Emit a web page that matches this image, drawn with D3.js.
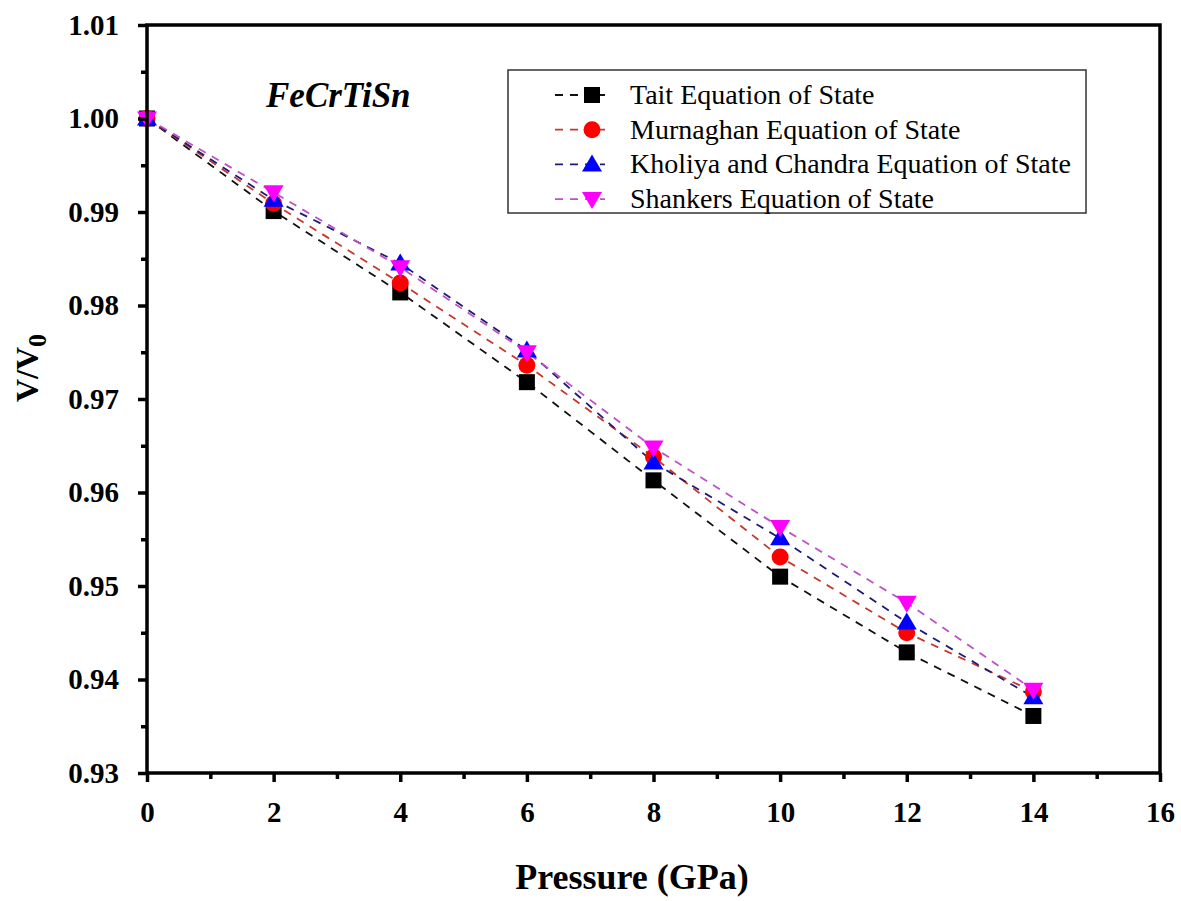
<!DOCTYPE html>
<html>
<head>
<meta charset="utf-8">
<script src="https://cdn.jsdelivr.net/npm/d3@7"></script>
<style>
  body { margin: 0; background: #fff; }
  text { font-family: "Liberation Serif", "Times New Roman", serif; }
  .tick-label { font-size: 29px; font-weight: bold; }
  .axis-title { font-size: 36px; font-weight: bold; }
  .legend { font-size: 28px; }
</style>
</head>
<body>
<svg id="fig" width="1181" height="901"></svg>
<script>
// pressure (GPa)
const pressure = [0, 2, 4, 6, 8, 10, 12, 14]

// V/V0 for each equation of state
const tait       = [1.0000, 0.9901, 0.9814, 0.9718, 0.9613, 0.9510, 0.9429, 0.9361]
const murnaghan  = [1.0000, 0.9909, 0.9824, 0.9736, 0.9638, 0.9531, 0.9450, 0.9387]
const kholiya    = [1.0000, 0.9913, 0.9845, 0.9752, 0.9632, 0.9551, 0.9461, 0.9381]
const shankers   = [1.0000, 0.9921, 0.9841, 0.9750, 0.9648, 0.9563, 0.9482, 0.9389]

const seriesNames = ["Tait Equation of State",
                     "Murnaghan Equation of State",
                     "Kholiya and Chandra Equation of State",
                     "Shankers Equation of State"]

const xTicks = [0, 2, 4, 6, 8, 10, 12, 14, 16]
const yTicks = [0.93, 0.94, 0.95, 0.96, 0.97, 0.98, 0.99, 1.00, 1.01]

const series = [
    {name: seriesNames[0], values: tait,      line: "#111111", fill: "#000000", shape: "square"},
    {name: seriesNames[1], values: murnaghan, line: "#c8382a", fill: "#ff0000", shape: "circle"},
    {name: seriesNames[2], values: kholiya,   line: "#1c1c78", fill: "#0000ff", shape: "up"},
    {name: seriesNames[3], values: shankers,  line: "#c050c8", fill: "#ff00ff", shape: "down"}
]

const pLeft = 147, pRight = 1160, pTop = 25, pBottom = 773
const Fig = d3.select("#fig")

const xScale = d3.scaleLinear().domain([0, 16]).range([pLeft, pRight])
const yScale = d3.scaleLinear().domain([0.93, 1.01]).range([pBottom, pTop])

// lines
const line = d3.line().x((d, i) => xScale(pressure[i])).y(d => yScale(d))
Fig.selectAll(".series-line")
    .data(series)
    .join("path")
    .attr("class", "series-line")
    .attr("d", d => line(d.values))
    .attr("fill", "none")
    .attr("stroke", d => d.line)
    .attr("stroke-width", 1.8)
    .attr("stroke-dasharray", "8,7")

// marker shapes
function marker(g, s) {
    if (s.shape === "square") {
        g.append("rect").attr("x", -8).attr("y", -8).attr("width", 16).attr("height", 16).attr("fill", s.fill)
    } else if (s.shape === "circle") {
        g.append("circle").attr("r", 8.5).attr("fill", s.fill)
    } else if (s.shape === "up") {
        g.append("path").attr("d", "M0,-10L10,7L-10,7Z").attr("fill", s.fill)
    } else {
        g.append("path").attr("d", "M0,10L10,-7L-10,-7Z").attr("fill", s.fill)
    }
}

series.forEach(s => {
    Fig.append("g").selectAll("g")
        .data(s.values)
        .join("g")
        .attr("transform", (d, i) => `translate(${xScale(pressure[i])},${yScale(d)})`)
        .each(function() { marker(d3.select(this), s) })
})

// frame
Fig.append("rect")
    .attr("x", pLeft).attr("y", pTop)
    .attr("width", pRight - pLeft).attr("height", pBottom - pTop)
    .attr("fill", "none").attr("stroke", "black").attr("stroke-width", 3.5)

// X axis
const x_axis = d3.axisBottom(xScale).tickValues(xTicks).tickSize(9).tickPadding(19).tickFormat(d3.format("d"))
const gx = Fig.append("g").attr("transform", `translate(0,${pBottom})`).call(x_axis)
gx.select(".domain").remove()
gx.selectAll("line").attr("stroke-width", 3.5)
gx.selectAll("text").attr("class", "tick-label").attr("fill", "black")
gx.attr("font-size", null).attr("font-family", null)
const gxm = Fig.append("g").attr("transform", `translate(0,${pBottom})`)
    .call(d3.axisBottom(xScale).tickValues(d3.range(1, 16, 2)).tickSize(6).tickFormat(""))
gxm.select(".domain").remove()
gxm.selectAll("line").attr("stroke-width", 3.5)

// Y axis
const y_axis = d3.axisLeft(yScale).tickValues(yTicks).tickSize(9).tickPadding(19).tickFormat(d3.format(".2f"))
const gy = Fig.append("g").attr("transform", `translate(${pLeft},0)`).call(y_axis)
gy.select(".domain").remove()
gy.selectAll("line").attr("stroke-width", 3.5)
gy.selectAll("text").attr("class", "tick-label").attr("fill", "black")
gy.attr("font-size", null).attr("font-family", null)
const gym = Fig.append("g").attr("transform", `translate(${pLeft},0)`)
    .call(d3.axisLeft(yScale).tickValues(yTicks.slice(0, -1).map(v => v + 0.005)).tickSize(6).tickFormat(""))
gym.select(".domain").remove()
gym.selectAll("line").attr("stroke-width", 3.5)

// Labels
Fig.append("text")
    .attr("class", "axis-title")
    .attr("x", 632).attr("y", 889)
    .attr("text-anchor", "middle")
    .text("Pressure (GPa)")

const yl = Fig.append("text")
    .attr("class", "axis-title")
    .attr("transform", `translate(38,368) rotate(270)`)
    .attr("text-anchor", "middle")
    .style("font-size", "32px")
yl.append("tspan").text("V/V")
yl.append("tspan").text("0").attr("dy", 8).style("font-size", "26px")

// compound name
Fig.append("text")
    .attr("x", 266).attr("y", 107)
    .attr("font-size", 35)
    .attr("font-weight", "bold")
    .attr("font-style", "italic")
    .text("FeCrTiSn")

// legend
const legendContainer = Fig.append("g")
legendContainer.append("rect")
    .attr("x", 508).attr("y", 70)
    .attr("width", 578).attr("height", 143)
    .attr("fill", "white").attr("stroke", "#333").attr("stroke-width", 1.5)

const legends_items = legendContainer.selectAll(".legend-item")
    .data(series)
    .join("g")
    .attr("class", "legend-item")
    .attr("transform", (d, i) => `translate(${0},${95 + i * 34.7})`)

legends_items.append("line")
    .attr("x1", 555).attr("x2", 605)
    .attr("stroke", d => d.line)
    .attr("stroke-width", 1.8)
    .attr("stroke-dasharray", "8,7")
legends_items.append("g")
    .attr("transform", "translate(592,0)")
    .each(function(d) { marker(d3.select(this), d) })
legends_items.append("text")
    .attr("class", "legend")
    .attr("x", 630).attr("dy", 9)
    .attr("fill", "black")
    .text(d => d.name)
</script>
</body>
</html>
